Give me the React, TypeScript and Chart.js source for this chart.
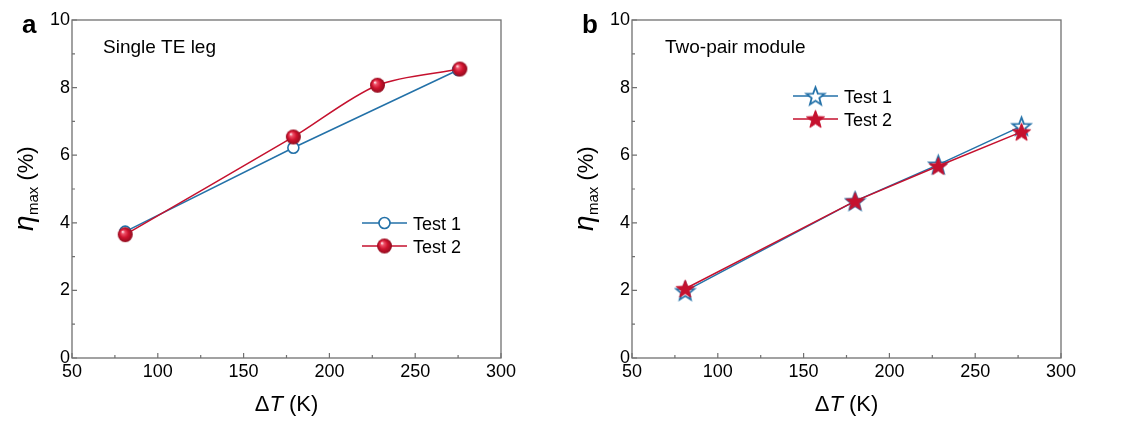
import React, { useEffect, useRef } from "react";
import { Chart, registerables } from "chart.js";
Chart.register(...registerables);

const FONT = "'Liberation Sans', Arial, Helvetica, sans-serif";
const BLUE = "#2371a8";
const RED = "#c5112e";
const FRAME = "#707070";

// Panel a: single TE leg
const A_TEST1_X = [81, 179, 275];
const A_TEST1_Y = [3.74, 6.22, 8.52];
const A_TEST2_X = [81, 179, 228, 276];
const A_TEST2_Y = [3.65, 6.54, 8.07, 8.55];
// Panel b: two-pair module
const B_X = [81, 180, 228.5, 277];
const B_TEST1_Y = [1.98, 4.64, 5.72, 6.86];
const B_TEST2_Y = [2.05, 4.64, 5.68, 6.69];

const X_TICKS = [50, 100, 150, 200, 250, 300];
const Y_TICKS = [0, 2, 4, 6, 8, 10];
const X_MINOR = [75, 125, 175, 225, 275];
const Y_MINOR = [1, 3, 5, 7, 9];
const LEGEND_LABELS = ["Test 1", "Test 2"];
const PANEL_LABELS = ["a", "b"];
const PANEL_TITLES = ["Single TE leg", "Two-pair module"];

function pts(xs: number[], ys: number[]) {
  return xs.map((x, i) => ({ x, y: ys[i] }));
}

function makeSphere(r: number) {
  const s = Math.ceil(2 * r + 2);
  const c = document.createElement("canvas");
  c.width = s;
  c.height = s;
  const ctx = c.getContext("2d")!;
  const cx = s / 2;
  const g = ctx.createRadialGradient(cx - r * 0.35, cx - r * 0.4, r * 0.05, cx, cx, r);
  g.addColorStop(0, "#ffe6ea");
  g.addColorStop(0.2, "#ee5169");
  g.addColorStop(0.55, "#d0142f");
  g.addColorStop(1, "#900b1e");
  ctx.fillStyle = g;
  ctx.beginPath();
  ctx.arc(cx, cx, r, 0, Math.PI * 2);
  ctx.fill();
  return c;
}

function makeStar(outer: number, inner: number, fill: string, stroke: string, lw: number) {
  const s = Math.ceil(2 * outer + 4);
  const c = document.createElement("canvas");
  c.width = s;
  c.height = s;
  const ctx = c.getContext("2d")!;
  const cx = s / 2;
  const cy = s / 2 + 0.8;
  ctx.beginPath();
  for (let i = 0; i < 10; i++) {
    const rr = i % 2 === 0 ? outer : inner;
    const a = -Math.PI / 2 + (i * Math.PI) / 5;
    const px = cx + rr * Math.cos(a);
    const py = cy + rr * Math.sin(a);
    if (i === 0) ctx.moveTo(px, py);
    else ctx.lineTo(px, py);
  }
  ctx.closePath();
  ctx.fillStyle = fill;
  ctx.fill();
  ctx.lineWidth = lw;
  ctx.strokeStyle = stroke;
  ctx.lineJoin = "miter";
  ctx.stroke();
  return c;
}

function Panel({ idx, left, width }: { idx: number; left: number; width: number }) {
  const ref = useRef<HTMLCanvasElement | null>(null);

  useEffect(() => {
    const canvas = ref.current;
    if (!canvas) return;
    const sphere = makeSphere(7.5);
    const starBlue = makeStar(9.5, 4, "#ffffff", BLUE, 1.8);
    const starRed = makeStar(9.5, 4, RED, RED, 1);

    let datasets: any[];
    let legendPos: { x: number; y: number };
    if (idx === 0) {
      datasets = [
        {
          label: LEGEND_LABELS[0],
          data: pts(A_TEST1_X, A_TEST1_Y),
          borderColor: BLUE,
          borderWidth: 1.5,
          pointStyle: "circle",
          pointRadius: 5.5,
          pointBackgroundColor: "#ffffff",
          pointBorderColor: BLUE,
          pointBorderWidth: 1.6,
          tension: 0,
          order: 2,
        },
        {
          label: LEGEND_LABELS[1],
          data: pts(A_TEST2_X, A_TEST2_Y),
          borderColor: RED,
          borderWidth: 1.5,
          pointStyle: sphere,
          pointRadius: 7.5,
          tension: 0.3,
          order: 1,
        },
      ];
      legendPos = { x: 362, y: 223 };
    } else {
      datasets = [
        {
          label: LEGEND_LABELS[0],
          data: pts(B_X, B_TEST1_Y),
          borderColor: BLUE,
          borderWidth: 1.5,
          pointStyle: starBlue,
          pointRadius: 9,
          tension: 0,
          order: 2,
        },
        {
          label: LEGEND_LABELS[1],
          data: pts(B_X, B_TEST2_Y),
          borderColor: RED,
          borderWidth: 1.5,
          pointStyle: starRed,
          pointRadius: 9,
          tension: 0,
          order: 1,
        },
      ];
      legendPos = { x: 233, y: 96 };
    }

    const decor = {
      id: "decor" + idx,
      afterDraw(chart: any) {
        const ctx = chart.ctx as CanvasRenderingContext2D;
        const { left: L, right: R, top: T, bottom: B } = chart.chartArea;
        const xs = chart.scales.x;
        const ys = chart.scales.y;
        ctx.save();
        // frame
        ctx.strokeStyle = FRAME;
        ctx.lineWidth = 1.3;
        ctx.strokeRect(L, T, R - L, B - T);
        // inward ticks
        ctx.lineWidth = 1.2;
        ctx.beginPath();
        X_TICKS.forEach((v) => {
          const px = xs.getPixelForValue(v);
          ctx.moveTo(px, B);
          ctx.lineTo(px, B - 5);
        });
        X_MINOR.forEach((v) => {
          const px = xs.getPixelForValue(v);
          ctx.moveTo(px, B);
          ctx.lineTo(px, B - 3);
        });
        Y_TICKS.forEach((v) => {
          const py = ys.getPixelForValue(v);
          ctx.moveTo(L, py);
          ctx.lineTo(L + 5, py);
        });
        Y_MINOR.forEach((v) => {
          const py = ys.getPixelForValue(v);
          ctx.moveTo(L, py);
          ctx.lineTo(L + 3, py);
        });
        ctx.stroke();

        ctx.fillStyle = "#000";
        ctx.textBaseline = "alphabetic";
        // x title: ΔT (K)
        const main = 22;
        ctx.font = `${main}px ${FONT}`;
        const wD = ctx.measureText("Δ").width;
        const wK = ctx.measureText(" (K)").width;
        ctx.font = `italic ${main}px ${FONT}`;
        const wT = ctx.measureText("T").width;
        const totX = wD + wT + wK;
        let sx = (L + R) / 2 - totX / 2;
        const by = 411;
        ctx.font = `${main}px ${FONT}`;
        ctx.textAlign = "left";
        ctx.fillText("Δ", sx, by);
        sx += wD;
        ctx.font = `italic ${main}px ${FONT}`;
        ctx.fillText("T", sx, by);
        sx += wT;
        ctx.font = `${main}px ${FONT}`;
        ctx.fillText(" (K)", sx, by);

        // y title: η_max (%)
        ctx.save();
        ctx.translate(33, (T + B) / 2);
        ctx.rotate(-Math.PI / 2);
        ctx.font = `italic 28px ${FONT}`;
        const wEta = ctx.measureText("η").width;
        ctx.font = `15px ${FONT}`;
        const wMax = ctx.measureText("max").width;
        ctx.font = `${main}px ${FONT}`;
        const wPct = ctx.measureText(" (%)").width;
        let ty = -(wEta + wMax + wPct) / 2;
        ctx.font = `italic 28px ${FONT}`;
        ctx.fillText("η", ty, 0);
        ty += wEta + 0.5;
        ctx.font = `15px ${FONT}`;
        ctx.fillText("max", ty, 5);
        ty += wMax;
        ctx.font = `${main}px ${FONT}`;
        ctx.fillText(" (%)", ty, 0);
        ctx.restore();

        // panel letter
        ctx.font = `bold 26px ${FONT}`;
        ctx.fillText(PANEL_LABELS[idx], 22, 33);
        // panel title
        ctx.font = `19px ${FONT}`;
        ctx.fillText(PANEL_TITLES[idx], idx === 0 ? 103 : 105, 53);

        // legend
        const rowGap = 23;
        datasets.forEach((d, i) => {
          const y = legendPos.y + i * rowGap;
          ctx.strokeStyle = d.borderColor;
          ctx.lineWidth = 1.5;
          ctx.beginPath();
          ctx.moveTo(legendPos.x, y);
          ctx.lineTo(legendPos.x + 45, y);
          ctx.stroke();
          const mx = legendPos.x + 22.5;
          if (d.pointStyle === "circle") {
            ctx.beginPath();
            ctx.arc(mx, y, 5.5, 0, Math.PI * 2);
            ctx.fillStyle = "#fff";
            ctx.fill();
            ctx.lineWidth = 1.6;
            ctx.strokeStyle = BLUE;
            ctx.stroke();
          } else {
            const img = d.pointStyle as HTMLCanvasElement;
            ctx.drawImage(img, mx - img.width / 2, y - img.height / 2);
          }
          ctx.fillStyle = "#000";
          ctx.font = `18px ${FONT}`;
          ctx.fillText(d.label, legendPos.x + 51, y + 6.5);
        });
        ctx.restore();
      },
    };

    const chart = new Chart(canvas, {
      type: "line",
      data: { datasets },
      options: {
        responsive: false,
        animation: false,
        layout: { padding: { top: 20, right: width - 501, left: 0, bottom: 0 } },
        plugins: { legend: { display: false }, tooltip: { enabled: false } },
        scales: {
          x: {
            type: "linear",
            min: 50,
            max: 300,
            afterBuildTicks: (s: any) => {
              s.ticks = X_TICKS.map((v) => ({ value: v }));
            },
            afterFit: (s: any) => {
              s.height = 63;
            },
            grid: { display: false, drawTicks: false },
            border: { display: false },
            ticks: {
              color: "#000",
              font: { family: FONT, size: 18 },
              padding: 3,
              maxRotation: 0,
              autoSkip: false,
            },
          },
          y: {
            type: "linear",
            min: 0,
            max: 10,
            afterBuildTicks: (s: any) => {
              s.ticks = Y_TICKS.map((v) => ({ value: v }));
            },
            afterFit: (s: any) => {
              s.width = 72;
            },
            grid: { display: false, drawTicks: false },
            border: { display: false },
            ticks: {
              color: "#000",
              font: { family: FONT, size: 18 },
              padding: 2,
              autoSkip: false,
            },
          },
        },
      } as any,
      plugins: [decor],
    });
    return () => chart.destroy();
  }, [idx, width]);

  return (
    <canvas
      ref={ref}
      width={width}
      height={421}
      style={{ position: "absolute", left, top: 0, width, height: 421 }}
    />
  );
}

export default function App() {
  return (
    <div style={{ position: "absolute", left: 0, top: 0, width: 1121, height: 421, background: "#fff" }}>
      <Panel idx={0} left={0} width={560} />
      <Panel idx={1} left={560} width={561} />
    </div>
  );
}
